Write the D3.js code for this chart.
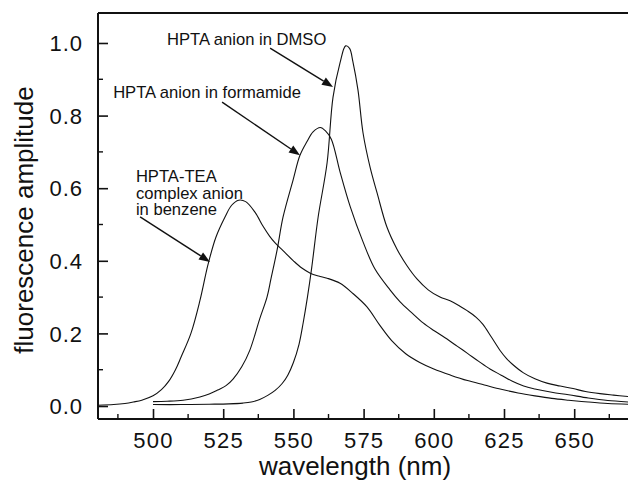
<!DOCTYPE html>
<html>
<head>
<meta charset="utf-8">
<script src="https://cdn.jsdelivr.net/npm/d3@7"></script>
<style>
  html, body { margin: 0; padding: 0; background: #fff; }
  svg { display: block; }
  text { font-family: "Liberation Sans", Arial, Helvetica, sans-serif; fill: #111; }
</style>
</head>
<body>
<svg id="chart" width="628" height="487"></svg>
<script>
// ---------- data (wavelength nm, fluorescence amplitude) ----------
const benzeneWl = [480.4, 486, 490, 493, 496, 500, 503, 505.5, 508, 510, 513.5, 516.7, 519.6, 522.4, 525.6, 528, 530.5, 533, 536.3, 539.2, 541.5, 543.4, 546.3, 550, 553, 556, 559, 562, 566.6, 571.2, 576.2, 580.8, 585, 590, 595, 600, 606, 612, 618, 624, 630, 636, 642, 648, 655, 662, 669.2];
const benzeneAmp = [0.002, 0.004, 0.007, 0.011, 0.016, 0.028, 0.045, 0.067, 0.1, 0.135, 0.2, 0.29, 0.39, 0.465, 0.52, 0.553, 0.567, 0.563, 0.534, 0.495, 0.468, 0.45, 0.428, 0.40, 0.38, 0.366, 0.358, 0.352, 0.338, 0.31, 0.273, 0.222, 0.18, 0.144, 0.12, 0.102, 0.085, 0.07, 0.058, 0.046, 0.036, 0.028, 0.021, 0.016, 0.011, 0.007, 0.005];

const formamideWl = [500, 505, 510.7, 516.7, 520, 523, 526, 528.5, 531.6, 534.5, 538, 540.6, 542, 544.2, 546.3, 549.9, 552.3, 554.8, 557, 559.6, 561.5, 563.5, 566.6, 570.2, 574.8, 579, 584.4, 588, 592, 596.2, 600, 604, 608.3, 612, 616, 620, 624, 628, 632, 636, 642, 648, 655, 662, 669.2];
const formamideAmp = [0.012, 0.013, 0.016, 0.025, 0.033, 0.044, 0.056, 0.074, 0.108, 0.154, 0.24, 0.30, 0.35, 0.43, 0.52, 0.623, 0.69, 0.728, 0.755, 0.767, 0.757, 0.735, 0.645, 0.55, 0.452, 0.378, 0.32, 0.287, 0.258, 0.229, 0.208, 0.188, 0.165, 0.145, 0.123, 0.102, 0.085, 0.068, 0.055, 0.047, 0.038, 0.031, 0.022, 0.015, 0.011];

const dmsoWl = [500, 510, 520, 527, 532, 535, 538, 541, 543.5, 546, 548, 550, 552, 553.5, 555, 556.5, 558.8, 562, 564.1, 566.6, 568.6, 570, 571.2, 573, 574.8, 577.3, 579.8, 583.3, 586.9, 590.4, 594, 598, 602.2, 605.8, 609.3, 612, 615, 617.5, 620.5, 623.6, 626, 628, 631.8, 636, 640.3, 645, 649.6, 654, 659.2, 664, 669.2];
const dmsoAmp = [0.004, 0.004, 0.005, 0.006, 0.008, 0.011, 0.018, 0.03, 0.043, 0.062, 0.085, 0.12, 0.17, 0.23, 0.3, 0.38, 0.52, 0.67, 0.85, 0.945, 0.992, 0.985, 0.948, 0.87, 0.752, 0.658, 0.587, 0.493, 0.432, 0.387, 0.35, 0.32, 0.30, 0.29, 0.275, 0.262, 0.245, 0.225, 0.19, 0.153, 0.13, 0.115, 0.092, 0.075, 0.063, 0.055, 0.048, 0.04, 0.034, 0.03, 0.026];

const xMajorTicks = [500, 525, 550, 575, 600, 625, 650];
const xMinorTicks = [487.5, 512.5, 537.5, 562.5, 587.5, 612.5, 637.5, 662.5];
const yMajorTicks = [0.0, 0.2, 0.4, 0.6, 0.8, 1.0];
const yMinorTicks = [0.1, 0.3, 0.5, 0.7, 0.9];

const xTitle = "wavelength (nm)";
const yTitle = "fluorescence amplitude";

// annotation texts, label anchor and arrow (in data units)
const annoLines = [["HPTA anion in DMSO"], ["HPTA anion in formamide"], ["HPTA-TEA", "complex anion", "in benzene"]];
const annoTextAt = [[505.0, 0.994], [485.8, 0.848], [493.9, 0.617]];
const annoArrowFrom = [[541.7, 0.986], [524.6, 0.837], [495.4, 0.521]];
const annoArrowTo = [[564.1, 0.879], [552.35, 0.691], [520.3, 0.397]];

// ---------- layout ----------
const L = 98, R = 628, T = 13, B = 419;
const svg = d3.select("#chart");

const x = d3.scaleLinear().domain([480.41, 669.16]).range([L, R]);
const y = d3.scaleLinear().domain([-0.0358, 1.0826]).range([B, T]);

svg.append("defs").append("clipPath").attr("id", "clip")
  .append("rect").attr("x", L).attr("y", T).attr("width", R - L).attr("height", B - T);

// curves
const line = d3.line().x(d => x(d[0])).y(d => y(d[1])).curve(d3.curveCatmullRom.alpha(0.5));
const series = [
  d3.zip(benzeneWl, benzeneAmp),
  d3.zip(formamideWl, formamideAmp),
  d3.zip(dmsoWl, dmsoAmp)
];
svg.append("g").attr("clip-path", "url(#clip)")
  .selectAll("path").data(series).join("path")
  .attr("d", line)
  .attr("fill", "none")
  .attr("stroke", "#111")
  .attr("stroke-width", 1.1);

// axes
const fontTick = 22;
const yAxis = d3.axisLeft(y).tickValues(yMajorTicks).tickFormat(d3.format(".1f"))
  .tickSizeInner(-10).tickSizeOuter(0).tickPadding(15);
const gy = svg.append("g").attr("transform", `translate(${L},0)`).call(yAxis);
gy.select(".domain").remove();
gy.selectAll("line").attr("stroke", "#111").attr("stroke-width", 1.6);
gy.selectAll("text").attr("font-size", fontTick).attr("fill", "#111")
  .style("letter-spacing", "1px").attr("dy", "0.35em")
  .attr("font-family", "'Liberation Sans', Arial, sans-serif");
svg.append("g").selectAll("line").data(yMinorTicks).join("line")
  .attr("x1", L).attr("x2", L + 5).attr("y1", d => y(d)).attr("y2", d => y(d))
  .attr("stroke", "#111").attr("stroke-width", 1.4);

const xAxis = d3.axisBottom(x).tickValues(xMajorTicks).tickFormat(d3.format("d"))
  .tickSizeInner(-10).tickSizeOuter(0).tickPadding(14);
const gx = svg.append("g").attr("transform", `translate(0,${B})`).call(xAxis);
gx.select(".domain").remove();
gx.selectAll("line").attr("stroke", "#111").attr("stroke-width", 1.6);
gx.selectAll("text").attr("font-size", fontTick).attr("fill", "#111")
  .attr("y", 29).attr("dy", null).style("letter-spacing", "1.2px")
  .attr("font-family", "'Liberation Sans', Arial, sans-serif");
svg.append("g").selectAll("line").data(xMinorTicks).join("line")
  .attr("x1", d => x(d)).attr("x2", d => x(d)).attr("y1", B).attr("y2", B - 5)
  .attr("stroke", "#111").attr("stroke-width", 1.4);

// frame lines: left, bottom, top
svg.append("line").attr("x1", L).attr("x2", L).attr("y1", T).attr("y2", B)
  .attr("stroke", "#111").attr("stroke-width", 2);
svg.append("line").attr("x1", L).attr("x2", R).attr("y1", B).attr("y2", B)
  .attr("stroke", "#111").attr("stroke-width", 2);
svg.append("line").attr("x1", L).attr("x2", R).attr("y1", T).attr("y2", T)
  .attr("stroke", "#111").attr("stroke-width", 2);

// titles
svg.append("text").attr("x", 355).attr("y", 475).attr("text-anchor", "middle")
  .attr("font-size", 26).text(xTitle);
svg.append("text").attr("transform", "translate(33,220) rotate(-90)")
  .attr("text-anchor", "middle").attr("font-size", 26).text(yTitle);

// annotations
const ga = svg.append("g");
annoLines.forEach((lines, i) => {
  const tx = x(annoTextAt[i][0]), ty = y(annoTextAt[i][1]);
  lines.forEach((s, k) => {
    ga.append("text").attr("x", tx).attr("y", ty + k * 16.5)
      .attr("font-size", 16.6).text(s);
  });
  const x1 = x(annoArrowFrom[i][0]), y1 = y(annoArrowFrom[i][1]);
  const x2 = x(annoArrowTo[i][0]), y2 = y(annoArrowTo[i][1]);
  const ang = Math.atan2(y2 - y1, x2 - x1);
  const hl = 11, hw = 4.2;
  const bx = x2 - hl * Math.cos(ang), by = y2 - hl * Math.sin(ang);
  ga.append("line").attr("x1", x1).attr("y1", y1).attr("x2", bx).attr("y2", by)
    .attr("stroke", "#111").attr("stroke-width", 1.4);
  const px = -Math.sin(ang), py = Math.cos(ang);
  ga.append("path")
    .attr("d", `M${x2},${y2}L${bx + hw * px},${by + hw * py}L${bx - hw * px},${by - hw * py}Z`)
    .attr("fill", "#111");
});
</script>
</body>
</html>
